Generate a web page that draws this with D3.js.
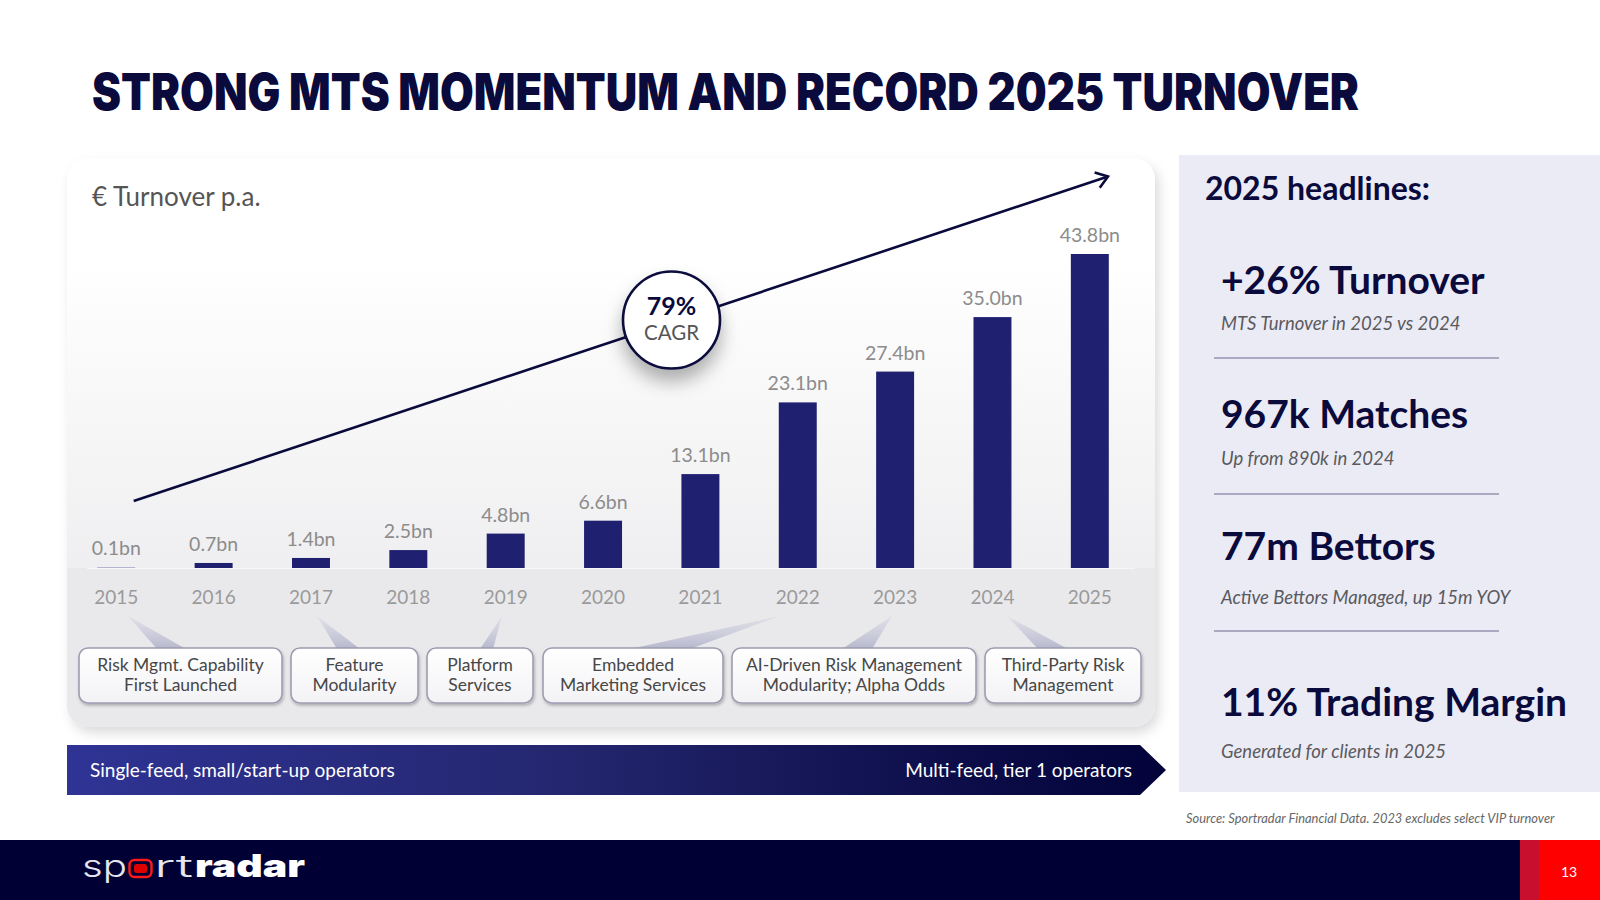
<!DOCTYPE html>
<html>
<head>
<meta charset="utf-8">
<script src="https://cdn.jsdelivr.net/npm/d3@7"></script>
<style>
  html, body { margin: 0; padding: 0; background: #ffffff; }
  svg { display: block; }
  text { font-family: Lato, "Noto Sans", sans-serif; }
</style>
</head>
<body>
<script>
// ---------------- DATA ----------------
const years = ["2015","2016","2017","2018","2019","2020","2021","2022","2023","2024","2025"];
const turnover = [0.1, 0.7, 1.4, 2.5, 4.8, 6.6, 13.1, 23.1, 27.4, 35.0, 43.8];
const cagrValue = "79%";
const cagrLabel = "CAGR";
const unitLabel = "€ Turnover p.a.";
const milestoneLines = [
  ["Risk Mgmt. Capability", "First Launched"],
  ["Feature", "Modularity"],
  ["Platform", "Services"],
  ["Embedded", "Marketing Services"],
  ["AI-Driven Risk Management", "Modularity; Alpha Odds"],
  ["Third-Party Risk", "Management"]
];
const bandLabels = ["Single-feed, small/start-up operators", "Multi-feed, tier 1 operators"];
const title = "STRONG MTS MOMENTUM AND RECORD 2025 TURNOVER";
const sideTitle = "2025 headlines:";
const headlines = ["+26% Turnover", "967k Matches", "77m Bettors", "11% Trading Margin"];
const headlineNotes = ["MTS Turnover in 2025 vs 2024", "Up from 890k in 2024", "Active Bettors Managed, up 15m YOY", "Generated for clients in 2025"];
const sourceNote = "Source: Sportradar Financial Data. 2023 excludes select VIP turnover";
const pageNumber = "13";

// ---------------- LAYOUT ----------------
const navy = "#0a0a3c";
const barColor = "#1f2170";
const baseY = 568;
const boxSpans = [[79, 282], [291, 418], [427, 533], [543, 723], [732, 976], [985, 1141]];
const tailSpans = [[128, 157, 186], [317, 337, 360], [502, 480, 493], [780, 630, 690], [892, 842, 872], [1007, 1038, 1068]];
const boxTop = 648, boxBottom = 703, tailApexY = 616;
const headlineBase = [294, 428, 560, 716];
const noteBase = [330, 465, 604, 758];
const dividerY = [358, 494, 631];

const svg = d3.select("body").append("svg").attr("width", 1600).attr("height", 900);
const defs = svg.append("defs");

// filters
const f1 = defs.append("filter").attr("id", "panelShadow").attr("x", "-5%").attr("y", "-5%").attr("width", "115%").attr("height", "115%");
f1.append("feDropShadow").attr("dx", 4).attr("dy", 6).attr("stdDeviation", 6).attr("flood-color", "#000").attr("flood-opacity", 0.14);
const f2 = defs.append("filter").attr("id", "boxShadow").attr("x", "-10%").attr("y", "-20%").attr("width", "120%").attr("height", "150%");
f2.append("feDropShadow").attr("dx", 1).attr("dy", 2).attr("stdDeviation", 1.5).attr("flood-color", "#000").attr("flood-opacity", 0.25);
const f3 = defs.append("filter").attr("id", "circleShadow").attr("x", "-60%").attr("y", "-60%").attr("width", "220%").attr("height", "240%");
f3.append("feDropShadow").attr("dx", 0).attr("dy", 12).attr("stdDeviation", 9).attr("flood-color", "#000").attr("flood-opacity", 0.3);

// gradients
function vGrad(id, stops) {
  const g = defs.append("linearGradient").attr("id", id).attr("x1", 0).attr("y1", 0).attr("x2", 0).attr("y2", 1);
  stops.forEach(s => g.append("stop").attr("offset", s[0]).attr("stop-color", s[1]).attr("stop-opacity", s[2] == null ? 1 : s[2]));
}
vGrad("panelGrad", [[0, "#ffffff"], [0.18, "#ffffff"], [0.55, "#f4f4f5"], [0.72, "#efeff1"], [1, "#eaeaec"]]);
vGrad("boxGrad", [[0, "#ffffff"], [1, "#f3f3f6"]]);
vGrad("tailGrad", [[0, "#d9d9e4", 0.6], [1, "#b6b7cd"]]);
const bg = defs.append("linearGradient").attr("id", "bandGrad").attr("x1", 0).attr("y1", 0).attr("x2", 1).attr("y2", 0);
[[0, "#2f3394"], [0.45, "#24276f"], [0.8, "#0d0e4a"], [1, "#03033a"]].forEach(s => bg.append("stop").attr("offset", s[0]).attr("stop-color", s[1]));

// ---------------- TITLE ----------------
svg.append("text").attr("x", 92).attr("y", 110)
  .attr("textLength", 1267).attr("lengthAdjust", "spacingAndGlyphs")
  .style("font-family", "Inter, Lato, sans-serif").style("font-weight", 900).style("font-size", "51px")
  .attr("fill", navy).text(title);

// ---------------- CHART PANEL ----------------
const panel = { x: 67, y: 158, w: 1088, h: 569, r: 22 };
defs.append("clipPath").attr("id", "panelClip").append("rect")
  .attr("x", panel.x).attr("y", panel.y).attr("width", panel.w).attr("height", panel.h).attr("rx", panel.r);
svg.append("rect").attr("x", panel.x).attr("y", panel.y).attr("width", panel.w).attr("height", panel.h)
  .attr("rx", panel.r).attr("fill", "url(#panelGrad)").attr("filter", "url(#panelShadow)");
svg.append("rect").attr("clip-path", "url(#panelClip)")
  .attr("x", panel.x).attr("y", baseY).attr("width", panel.w).attr("height", panel.y + panel.h - baseY)
  .attr("fill", "#e9e9ec");
svg.append("line").attr("x1", panel.x + 20).attr("x2", panel.x + panel.w - 20).attr("y1", baseY + 0.5).attr("y2", baseY + 0.5)
  .attr("stroke", "#f6f6f8").attr("stroke-width", 1);

svg.append("text").attr("x", 92).attr("y", 206).style("font-size", "26px").attr("fill", "#555")
  .text(unitLabel);

// scales
const x = d3.scaleBand().domain(years).range([67.6, 1138.5]).paddingInner(0.61).paddingOuter(0.305);
const y = d3.scaleLinear().domain([0, 43.8]).range([baseY, 254]);

// bars
svg.append("g").selectAll("rect").data(years).join("rect")
  .attr("x", d => x(d)).attr("width", x.bandwidth())
  .attr("y", (d, i) => y(turnover[i])).attr("height", (d, i) => baseY - y(turnover[i]))
  .attr("fill", (d, i) => turnover[i] < 0.5 ? "#9a9bc0" : barColor);

// value labels
svg.append("g").selectAll("text").data(years).join("text")
  .attr("x", d => x(d) + x.bandwidth() / 2).attr("y", (d, i) => y(turnover[i]) - 12)
  .attr("text-anchor", "middle").style("font-size", "19.5px").attr("fill", "#8c8c8c")
  .text((d, i) => d3.format(".1f")(turnover[i]) + "bn");

// year axis
const axis = svg.append("g").attr("transform", `translate(0,${baseY})`)
  .call(d3.axisBottom(x).tickSize(0).tickPadding(23));
axis.select(".domain").remove();
axis.selectAll("text").style("font-family", "Lato, sans-serif").style("font-size", "19px").attr("fill", "#9a9a9a");

// trend arrow
const a0 = [133.7, 501], a1 = [1108, 176.5];
svg.append("line").attr("x1", a0[0]).attr("y1", a0[1]).attr("x2", a1[0]).attr("y2", a1[1])
  .attr("stroke", navy).attr("stroke-width", 2.6);
const ang = Math.atan2(a1[1] - a0[1], a1[0] - a0[0]);
const hl = 14, spread = 0.62;
const p1 = [a1[0] - hl * Math.cos(ang - spread), a1[1] - hl * Math.sin(ang - spread)];
const p2 = [a1[0] - hl * Math.cos(ang + spread), a1[1] - hl * Math.sin(ang + spread)];
svg.append("path").attr("d", d3.line()([p1, a1, p2])).attr("fill", "none")
  .attr("stroke", navy).attr("stroke-width", 2.6).attr("stroke-linejoin", "miter");

// CAGR bubble
const cx = 671.5, cy = 320;
svg.append("circle").attr("cx", cx).attr("cy", cy).attr("r", 48.5).attr("fill", "#fff")
  .attr("stroke", navy).attr("stroke-width", 2.6).attr("filter", "url(#circleShadow)");
svg.append("text").attr("x", cx).attr("y", 315).attr("text-anchor", "middle")
  .style("font-size", "25px").style("font-weight", 700).attr("fill", navy).text(cagrValue);
svg.append("text").attr("x", cx).attr("y", 340).attr("text-anchor", "middle")
  .style("font-size", "20.5px").attr("fill", "#555").text(cagrLabel);

// milestone tails
svg.append("g").selectAll("path").data(tailSpans).join("path")
  .attr("d", t => d3.line()([[t[0], tailApexY], [t[2], boxTop + 1], [t[1], boxTop + 1]]) + "Z")
  .attr("fill", "url(#tailGrad)");

// milestone boxes
const boxes = svg.append("g").selectAll("g").data(milestoneLines).join("g");
boxes.append("rect")
  .attr("x", (d, i) => boxSpans[i][0]).attr("y", boxTop)
  .attr("width", (d, i) => boxSpans[i][1] - boxSpans[i][0]).attr("height", boxBottom - boxTop)
  .attr("rx", 9).attr("fill", "url(#boxGrad)").attr("stroke", "#9d9db2").attr("stroke-width", 1.6)
  .attr("filter", "url(#boxShadow)");
boxes.each(function(d, i) {
  const g = d3.select(this);
  const mx = (boxSpans[i][0] + boxSpans[i][1]) / 2;
  d.forEach((line, j) => {
    g.append("text").attr("x", mx).attr("y", 671 + j * 20).attr("text-anchor", "middle")
      .style("font-size", "17.5px").attr("fill", "#474747").text(line);
  });
});

// progression band
const band = { x0: 67, x1: 1140, tip: 1166, y0: 745, y1: 795 };
svg.append("path")
  .attr("d", d3.line()([[band.x0, band.y0], [band.x1, band.y0], [band.tip, (band.y0 + band.y1) / 2], [band.x1, band.y1], [band.x0, band.y1]]) + "Z")
  .attr("fill", "url(#bandGrad)");
svg.append("text").attr("x", 90).attr("y", 777).style("font-size", "19px").attr("fill", "#fff").text(bandLabels[0]);
svg.append("text").attr("x", 1132).attr("y", 777).attr("text-anchor", "end").style("font-size", "19px").attr("fill", "#fff").text(bandLabels[1]);

// ---------------- SIDE PANEL ----------------
svg.append("rect").attr("x", 1179).attr("y", 155).attr("width", 421).attr("height", 637).attr("fill", "#ebebf5");
svg.append("text").attr("x", 1205).attr("y", 200).style("font-size", "32px").style("font-weight", 700)
  .attr("fill", navy).text(sideTitle);
svg.append("g").selectAll("text").data(headlines).join("text")
  .attr("x", 1221).attr("y", (d, i) => headlineBase[i])
  .style("font-size", "39px").style("font-weight", 700).attr("fill", navy).text(d => d);
svg.append("g").selectAll("text").data(headlineNotes).join("text")
  .attr("x", 1221).attr("y", (d, i) => noteBase[i])
  .style("font-size", "18.5px").style("font-style", "italic").attr("fill", "#5a5a5e").text(d => d);
svg.append("g").selectAll("line").data(dividerY).join("line")
  .attr("x1", 1214).attr("x2", 1499).attr("y1", d => d).attr("y2", d => d)
  .attr("stroke", "#a9aac2").attr("stroke-width", 1.8);

svg.append("text").attr("x", 1186).attr("y", 823).style("font-size", "12.9px").style("font-style", "italic")
  .attr("fill", "#666").text(sourceNote);

// ---------------- FOOTER ----------------
svg.append("rect").attr("x", 0).attr("y", 840).attr("width", 1600).attr("height", 60).attr("fill", "#000035");
svg.append("rect").attr("x", 1520).attr("y", 840).attr("width", 80).attr("height", 60).attr("fill", "#ff0000");
svg.append("rect").attr("x", 1520).attr("y", 840).attr("width", 19).attr("height", 60).attr("fill", "#c8102e");
svg.append("text").attr("x", 1569).attr("y", 877).attr("text-anchor", "middle").style("font-size", "14px")
  .attr("fill", "#fff").text(pageNumber);

// logo
const logo = svg.append("g");
logo.append("text").attr("x", 82).attr("y", 877).attr("textLength", 45).attr("lengthAdjust", "spacingAndGlyphs")
  .style("font-family", "Inter, Lato, sans-serif").style("font-weight", 300).style("font-size", "31px")
  .attr("fill", "#e6e6ee").text("sp");
logo.append("rect").attr("x", 129.5).attr("y", 860).attr("width", 22).attr("height", 17).attr("rx", 5)
  .attr("fill", "none").attr("stroke", "#ff1a1a").attr("stroke-width", 2.4);
logo.append("rect").attr("x", 134).attr("y", 864).attr("width", 13).attr("height", 9).attr("rx", 2.5)
  .attr("fill", "#e00000");
logo.append("text").attr("x", 154).attr("y", 877).attr("textLength", 39).attr("lengthAdjust", "spacingAndGlyphs")
  .style("font-family", "Inter, Lato, sans-serif").style("font-weight", 300).style("font-size", "31px")
  .attr("fill", "#e6e6ee").text("rt");
logo.append("text").attr("x", 195).attr("y", 877).attr("textLength", 110).attr("lengthAdjust", "spacingAndGlyphs")
  .style("font-family", "Inter, Lato, sans-serif").style("font-weight", 900).style("font-size", "31px")
  .attr("fill", "#ffffff").text("radar");
</script>
</body>
</html>
